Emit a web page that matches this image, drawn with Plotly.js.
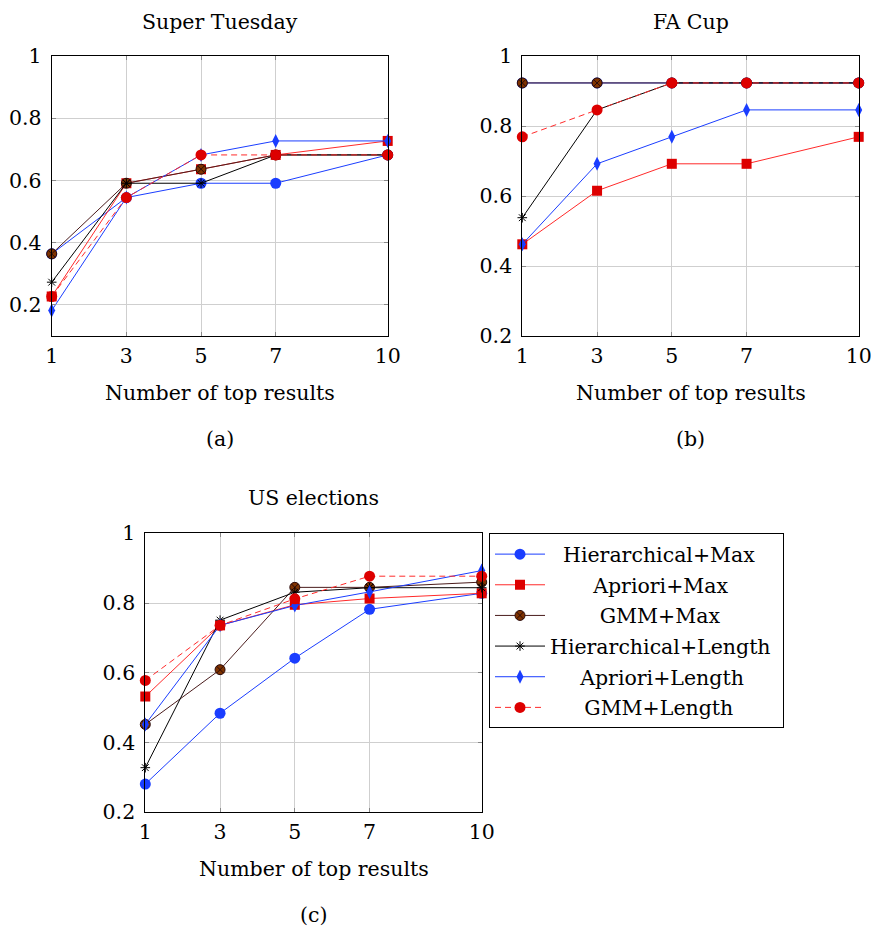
<!DOCTYPE html>
<html>
<head>
<meta charset="utf-8">
<script src="https://cdn.plot.ly/plotly-3.0.1.min.js"></script>
<style>html,body{margin:0;padding:0;background:#fff;}#chart{width:871px;height:927px;}</style>
</head>
<body>
<div id="chart"></div>
<script>
// ---- data ----
const topResults = [1, 3, 5, 7, 10];
const seriesNames = ["Hierarchical+Max", "Apriori+Max", "GMM+Max", "Hierarchical+Length", "Apriori+Length", "GMM+Length"];
const panelTitles = ["Super Tuesday", "FA Cup", "US elections"];
const panelCaptions = ["(a)", "(b)", "(c)"];
const xLabel = "Number of top results";
const xTickLabels = ["1", "3", "5", "7", "10"];
const yTickVals = [0.2, 0.4, 0.6, 0.8, 1];
const yTickLabels = ["0.2", "0.4", "0.6", "0.8", "1"];

// Super Tuesday
const stHierMax = [0.364, 0.545, 0.591, 0.591, 0.682];
const stAprMax  = [0.227, 0.591, 0.636, 0.682, 0.727];
const stGmmMax  = [0.364, 0.591, 0.636, 0.682, 0.682];
const stHierLen = [0.273, 0.591, 0.591, 0.682, 0.682];
const stAprLen  = [0.182, 0.545, 0.682, 0.727, 0.727];
const stGmmLen  = [0.227, 0.545, 0.682, 0.682, 0.682];

// FA Cup
const faHierMax = [0.923, 0.923, 0.923, 0.923, 0.923];
const faAprMax  = [0.462, 0.615, 0.692, 0.692, 0.769];
const faGmmMax  = [0.923, 0.923, 0.923, 0.923, 0.923];
const faHierLen = [0.538, 0.846, 0.923, 0.923, 0.923];
const faAprLen  = [0.462, 0.692, 0.769, 0.846, 0.846];
const faGmmLen  = [0.769, 0.846, 0.923, 0.923, 0.923];

// US elections
const usHierMax = [0.281, 0.484, 0.642, 0.782, 0.828];
const usAprMax  = [0.532, 0.736, 0.795, 0.813, 0.828];
const usGmmMax  = [0.452, 0.609, 0.845, 0.845, 0.860];
const usHierLen = [0.328, 0.751, 0.831, 0.844, 0.844];
const usAprLen  = [0.452, 0.736, 0.793, 0.832, 0.893];
const usGmmLen  = [0.578, 0.736, 0.812, 0.877, 0.877];

// ---- styles ----
const W = 871, H = 927;
const FONT = "DejaVu Serif";
const FS = 20.5;
const styles = [
  {line: {color: "#1a3dff", width: 1}, marker: {symbol: "circle", size: 11, color: "#1a3dff", line: {width: 0}}},
  {line: {color: "#ff2a2a", width: 1}, marker: {symbol: "square", size: 10, color: "#dd0000", line: {width: 0}}},
  {line: {color: "#4a1c1c", width: 1}, marker: {symbol: "circle-x", size: 10, color: "#7f3300", line: {width: 1, color: "#2a0a0a"}}},
  {line: {color: "#000000", width: 1}, marker: {symbol: "asterisk-open", size: 8, color: "#000000", line: {width: 1, color: "#000000"}}},
  {line: {color: "#1a3dff", width: 1}, marker: {symbol: "diamond-tall", size: 10, color: "#1a3dff", line: {width: 0}}},
  {line: {color: "#ff2a2a", width: 1, dash: "6px,4px"}, marker: {symbol: "circle", size: 11, color: "#dd0000", line: {width: 0}}}
];
// leading spacing (nbsp count, thin-space count) to centre legend labels; trailing nbsp count
const legendPad = [[2, 0, 0], [6, 1, 0], [7, 1, 0], [0, 0, 1], [4, 1, 0], [4, 2, 0]];

const panels = [
  {data: [stHierMax, stAprMax, stGmmMax, stHierLen, stAprLen, stGmmLen], xa: "x", ya: "y"},
  {data: [faHierMax, faAprMax, faGmmMax, faHierLen, faAprLen, faGmmLen], xa: "x2", ya: "y2"},
  {data: [usHierMax, usAprMax, usGmmMax, usHierLen, usAprLen, usGmmLen], xa: "x3", ya: "y3"}
];

function padName(name, p) {
  return "\u00A0".repeat(p[0]) + "\u2009".repeat(p[1]) + name + "\u00A0".repeat(p[2]);
}

const traces = [];
panels.forEach((p, pi) => {
  p.data.forEach((vals, si) => {
    traces.push({
      type: "scatter", mode: "lines+markers",
      x: topResults, y: vals,
      xaxis: p.xa, yaxis: p.ya,
      name: padName(seriesNames[si], legendPad[si]),
      legendgroup: "g" + si,
      showlegend: pi === 2,
      line: styles[si].line,
      marker: styles[si].marker,
      cliponaxis: false,
      hoverinfo: "skip"
    });
  });
});

function px2x(v) { return v / W; }
function px2y(v) { return 1 - v / H; }

function xAxis(x0, x1, anchor) {
  return {
    domain: [px2x(x0), px2x(x1)], anchor: anchor,
    range: [1, 10], tickvals: topResults, ticktext: xTickLabels,
    showgrid: true, gridcolor: "#cfcfcf", gridwidth: 1,
    zeroline: false, showline: true, linecolor: "#000", linewidth: 1, mirror: "allticks",
    ticks: "inside", ticklen: 4, tickcolor: "#888", tickwidth: 1,
    tickfont: {family: FONT, size: FS, color: "#000"}, ticklabelstandoff: 1,
    ticklabeloverflow: "allow",
    fixedrange: true
  };
}
function yAxis(y0, y1, anchor, range) {
  return {
    domain: [px2y(y1), px2y(y0)], anchor: anchor,
    range: range, tickvals: yTickVals, ticktext: yTickLabels,
    showgrid: true, gridcolor: "#cfcfcf", gridwidth: 1,
    zeroline: false, showline: true, linecolor: "#000", linewidth: 1, mirror: "allticks",
    ticks: "inside", ticklen: 4, tickcolor: "#888", tickwidth: 1,
    tickfont: {family: FONT, size: FS, color: "#000"}, ticklabelstandoff: 5,
    ticklabeloverflow: "allow",
    fixedrange: true
  };
}

const boxes = [
  {x0: 51.7, x1: 387.7, y0: 56, y1: 336, range: [0.1, 1]},
  {x0: 522.3, x1: 858.7, y0: 56, y1: 336, range: [0.2, 1]},
  {x0: 145.3, x1: 481.7, y0: 533.3, y1: 812.3, range: [0.2, 1]}
];

const annotations = [];
function ann(text, xpx, ypx) {
  annotations.push({text: text, x: px2x(xpx), y: px2y(ypx), xref: "paper", yref: "paper",
    xanchor: "center", yanchor: "middle", showarrow: false,
    font: {family: FONT, size: FS, color: "#000"}});
}
const titleY = [22, 22, 498];
const labelY = [393, 393, 869];
const captionY = [439, 439, 915];
boxes.forEach((b, i) => {
  const cx = (b.x0 + b.x1) / 2;
  ann(panelTitles[i], cx, titleY[i]);
  ann(xLabel, cx, labelY[i]);
  ann(panelCaptions[i], cx, captionY[i]);
});

const layout = {
  width: W, height: H,
  margin: {l: 0, r: 0, t: 0, b: 0},
  paper_bgcolor: "#fff", plot_bgcolor: "#fff",
  font: {family: FONT, size: FS, color: "#000"},
  xaxis: xAxis(boxes[0].x0, boxes[0].x1, "y"),
  yaxis: yAxis(boxes[0].y0, boxes[0].y1, "x", boxes[0].range),
  xaxis2: xAxis(boxes[1].x0, boxes[1].x1, "y2"),
  yaxis2: yAxis(boxes[1].y0, boxes[1].y1, "x2", boxes[1].range),
  xaxis3: xAxis(boxes[2].x0, boxes[2].x1, "y3"),
  yaxis3: yAxis(boxes[2].y0, boxes[2].y1, "x3", boxes[2].range),
  showlegend: true,
  legend: {
    x: px2x(489), y: px2y(533.3), xanchor: "left", yanchor: "top",
    bordercolor: "#000", borderwidth: 1, bgcolor: "#fff",
    font: {family: FONT, size: FS, color: "#000"},
    traceorder: "grouped", tracegroupgap: 1, itemwidth: 50
  },
  annotations: annotations
};

Plotly.newPlot("chart", traces, layout, {staticPlot: true, displayModeBar: false});
</script>
</body>
</html>
